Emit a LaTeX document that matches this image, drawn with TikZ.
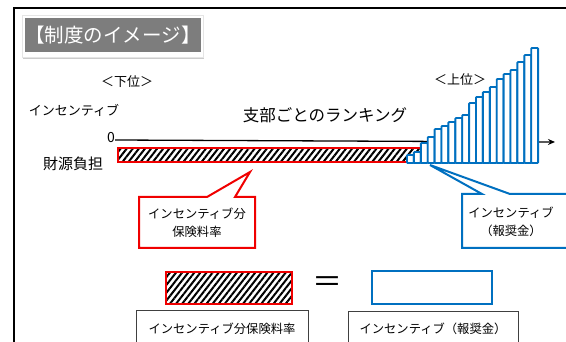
\documentclass[tikz,border=0pt]{standalone}
\usepackage{fontspec}
\setmainfont{Noto Sans CJK JP}
\usetikzlibrary{patterns.meta,shadows,arrows.meta}
\definecolor{ablue}{RGB}{0,112,192}
\definecolor{ared}{RGB}{240,0,0}
\definecolor{tgray}{RGB}{125,125,125}
\tikzset{
  hatchbox/.style={draw=ared,line width=1.6pt,pattern={Lines[angle=52,distance=4.8pt,line width=2pt]}},
  barbox/.style={draw=ablue,line width=1.9pt,fill=white,rounded corners=0.8pt},
  redcall/.style={draw=ared,line width=2pt,fill=white,line join=miter},
  bluecall/.style={draw=ablue,line width=2pt,fill=white,line join=miter},
  lbl/.style={font=\fontsize{13}{15}\selectfont,inner sep=0pt},
  calltext/.style={font=\fontsize{12.3}{18}\selectfont,align=center,inner sep=0pt},
  labelbox/.style={draw=black!75,line width=1pt,fill=white,drop shadow={shadow xshift=1.2pt,shadow yshift=-1.2pt,opacity=0.5}},
}
\begin{document}
\begin{tikzpicture}[x=1pt,y=-1pt]
\useasboundingbox (0,0) rectangle (566,342);
% outer frame
\draw[line width=1.2pt] (14,345) -- (14,8) -- (570,8);
% title
\node[draw=black!10,fill=white,drop shadow={shadow xshift=1pt,shadow yshift=-1.5pt,opacity=0.4},minimum width=181pt,minimum height=42pt] (titlebg) at (112.5,36.5) {};
\node[fill=tgray,text=white,minimum width=170pt,minimum height=34pt,inner sep=0pt,font=\fontsize{19.5}{22}\selectfont] (title) at (113,35) {【制度のイメージ】};
% labels
\node[lbl] (low) at (127,82) {＜下位＞};
\node[lbl] (high) at (460,80) {＜上位＞};
\node[lbl] (inc) at (74,110) {インセンティブ};
\node[font=\fontsize{16.5}{18}\selectfont,inner sep=0pt] (rank) at (325,115) {支部ごとのランキング};
\node[font=\fontsize{14}{16}\selectfont,inner sep=0pt] (zero) at (111,138) {0};
\node[font=\fontsize{15}{17}\selectfont,inner sep=0pt] (zaigen) at (73,164) {財源負担};
% axis
\coordinate (axend) at (555,142);
\draw[line width=1.3pt,-{Stealth[length=7pt,width=6pt]}] (zero.east) ++(0,2) -- (axend);
% hatched bar
\path[hatchbox] (118,148) rectangle (430,162);
% blue bars
\foreach \t [count=\i from 0] in {155,152,143,137,129,126,122,118,115,103,97,92,87,79,74,70,62,55,48}{
  \path[barbox] ({407+\i*6.9},\t) rectangle ({407+(\i+1)*6.9},163);
}
% red callout
\path[redcall] (139,197) -- (207,197) -- (250,172) -- (235,197) -- (255,197) -- (255,248) -- (139,248) -- cycle;
\node[calltext] (rcall) at (197,223) {インセンティブ分\\保険料率};
% blue callout
\path[bluecall] (462,194) -- (482,194) -- (430,165) -- (510,194) -- (575,194) -- (575,248) -- (462,248) -- cycle;
\node[calltext] (bcall) at (511,222) {インセンティブ\\（報奨金）};
% legend
\path[hatchbox] (166,272) rectangle (292,304);
\node[font=\fontsize{30}{30}\selectfont,inner sep=0pt] (eq) at (327,285) {＝};
\draw[draw=ablue,line width=1.8pt,fill=white] (372,271) rectangle (492,304);
\path[labelbox] (136,311) rectangle (308,352);
\node[calltext] (lab1) at (222,329) {インセンティブ分保険料率};
\path[labelbox] (348,312) rectangle (518,352);
\node[calltext] (lab2) at (433,329) {インセンティブ（報奨金）};
\end{tikzpicture}
\end{document}
